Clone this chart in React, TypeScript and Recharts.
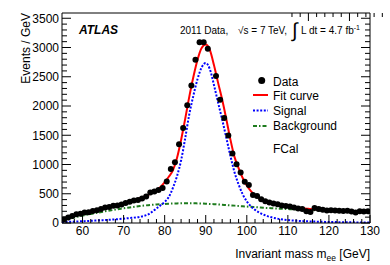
import {
  ComposedChart,
  Line,
  Scatter,
  XAxis,
  YAxis,
} from 'recharts'

// fit grid (GeV)
const MASS_GRID = [
  55, 56, 57, 58, 59, 60, 61, 62, 63, 64, 65, 66, 67, 68, 69, 70, 71, 72, 73, 74,
  75, 76, 77, 78, 79, 80, 81, 82, 83, 84, 85, 86, 87, 88, 89, 90, 91, 92, 93, 94,
  95, 96, 97, 98, 99, 100, 101, 102, 103, 104, 105, 106, 107, 108, 109, 110, 111, 112, 113, 114,
  115, 116, 117, 118, 119, 120, 121, 122, 123, 124, 125, 126, 127, 128, 129, 130,
]

const FIT = [
  68, 92, 113, 133, 151, 168, 185, 201, 218, 235, 252, 269, 286, 303, 320, 338, 356, 376, 398, 423,
  450, 483, 520, 563, 618, 698, 790, 900, 1110, 1420, 1780, 2160, 2500, 2790, 2990, 3050, 2960, 2700, 2400, 2110,
  1780, 1430, 1130, 940, 770, 640, 545, 475, 425, 390, 362, 340, 322, 307, 294, 283, 273, 264, 256, 249,
  243, 237, 232, 227, 223, 219, 215, 212, 209, 206, 203, 200, 198, 196, 194, 192,
]

const SIGNAL = [
  15, 18, 21, 24, 27, 30, 34, 37, 41, 45, 49, 53, 58, 63, 68, 74, 81, 88, 96, 106,
  122, 148, 195, 248, 302, 360, 445, 600, 800, 1070, 1450, 1860, 2180, 2460, 2660, 2735, 2630, 2360, 2060, 1770,
  1460, 1150, 870, 660, 490, 370, 285, 225, 180, 145, 118, 97, 81, 68, 58, 50, 44, 39, 35, 31,
  28, 25, 23, 21, 19, 17, 16, 15, 14, 13, 12, 11, 10, 9, 8, 8,
]

const BACKGROUND = [
  40, 58, 76, 93, 110, 126, 141, 155, 168, 181, 193, 205, 217, 229, 240, 251, 261, 271, 281, 290,
  298, 305, 311, 317, 322, 326, 330, 333, 335, 337, 338, 338, 337, 335, 333, 330, 326, 322, 317, 312,
  307, 302, 297, 291, 286, 281, 276, 271, 266, 261, 257, 253, 249, 245, 241, 238, 235, 232, 229, 226,
  223, 220, 217, 215, 213, 210, 208, 206, 204, 202, 200, 198, 196, 194, 192, 190,
]

// measured events per GeV, bin centres
const DATA_MASS = [
  55.5, 56.5, 57.5, 58.5, 59.5, 60.5, 61.5, 62.5, 63.5, 64.5, 65.5, 66.5, 67.5, 68.5, 69.5,
  70.5, 71.5, 72.5, 73.5, 74.5, 75.5, 76.5, 77.5, 78.5, 79.5, 80.5, 81.5, 82.5, 83.5, 84.5,
  85.5, 86.5, 87.5, 88.5, 89.5, 90.5, 92.5, 93.5, 94.5, 95.5, 96.5, 97.5, 98.5, 99.5,
  100.5, 101.5, 102.5, 103.5, 104.5, 105.5, 106.5, 107.5, 108.5, 109.5, 110.5, 111.5, 112.5, 113.5, 114.5,
  115.5, 116.5, 117.5, 118.5, 119.5, 120.5, 121.5, 122.5, 123.5, 124.5, 125.5, 126.5, 127.5, 128.5, 129.5,
]

const DATA_EVENTS = [
  65, 95, 120, 150, 160, 180, 185, 205, 220, 240, 265, 275, 295, 300, 315,
  340, 365, 385, 395, 420, 455, 520, 540, 565, 600, 710, 925, 1040, 1345, 1625,
  2015, 2350, 2790, 3090, 3090, 2980, 2515, 2105, 1795, 1495, 1190, 1005, 865, 705,
  650, 480, 460, 405, 370, 350, 335, 320, 300, 290, 280, 265, 250, 240, 200,
  190, 255, 240, 225, 215, 220, 215, 210, 205, 210, 195, 180, 200, 195, 200,
]

const X_TICKS = [
  56, 58, 60, 62, 64, 66, 68, 70, 72, 74, 76, 78, 80, 82, 84, 86, 88, 90, 92, 94,
  96, 98, 100, 102, 104, 106, 108, 110, 112, 114, 116, 118, 120, 122, 124, 126, 128, 130,
]
const Y_TICKS = [
  0, 100, 200, 300, 400, 500, 600, 700, 800, 900, 1000, 1100, 1200, 1300, 1400, 1500, 1600, 1700,
  1800, 1900, 2000, 2100, 2200, 2300, 2400, 2500, 2600, 2700, 2800, 2900, 3000, 3100, 3200, 3300,
  3400, 3500,
]

const FONT = "'Liberation Sans', Arial, Helvetica, sans-serif"
const RED = '#ff0000'
const BLUE = '#0000ff'
const GREEN = '#1e7b1e'
const SIG_DASH = '2 1.6'
const BG_DASH = '4 2 1.5 2'

const curveRows = MASS_GRID.map((m, i) => ({
  m,
  fit: FIT[i],
  signal: SIGNAL[i],
  background: BACKGROUND[i],
}))
const dataRows = DATA_MASS.map((m, i) => ({ m, events: DATA_EVENTS[i] }))

const tickText = { fontFamily: FONT, fontSize: 12, fill: '#000' }

function BottomTick(props: any) {
  const { x, y, payload } = props
  const major = payload.value % 10 === 0
  return (
    <g>
      <line x1={x} x2={x} y1={y} y2={y - (major ? 8 : 4)} stroke="#000" />
      {major && (
        <text x={x} y={y + 12} textAnchor="middle" {...tickText}>
          {payload.value}
        </text>
      )}
    </g>
  )
}

function TopTick(props: any) {
  const { x, y, payload } = props
  const major = payload.value % 10 === 0
  return <line x1={x} x2={x} y1={y} y2={y + (major ? 8 : 4)} stroke="#000" />
}

function LeftTick(props: any) {
  const { x, y, payload } = props
  const major = payload.value % 500 === 0
  return (
    <g>
      <line x1={x} x2={x + (major ? 9 : 5)} y1={y} y2={y} stroke="#000" />
      {major && (
        <text x={x - 3} y={y + 4.3} textAnchor="end" {...tickText}>
          {payload.value}
        </text>
      )}
    </g>
  )
}

function RightTick(props: any) {
  const { x, y, payload } = props
  const major = payload.value % 500 === 0
  return <line x1={x} x2={x - (major ? 9 : 5)} y1={y} y2={y} stroke="#000" />
}

function Dot(props: any) {
  return <circle cx={props.cx} cy={props.cy} r={3} fill="#000" />
}

function Labels() {
  const txt = { fontFamily: FONT, fill: '#000' }
  return (
    <svg
      width={390}
      height={265}
      style={{ position: 'absolute', left: 0, top: 0, pointerEvents: 'none' }}
    >
      <text x={29.5} y={13} transform="rotate(-90 29.5 13)" textAnchor="end" fontSize={12} {...txt}>
        Events / GeV
      </text>
      <text x={370} y={257.5} textAnchor="end" fontSize={12} {...txt}>
        Invariant mass m
        <tspan fontSize={8.5} dy={3}>ee</tspan>
        <tspan dy={-3}> [GeV]</tspan>
      </text>
      <text x={79} y={34.3} fontSize={12} fontWeight="bold" fontStyle="italic" {...txt}>
        ATLAS
      </text>
      <text x={180} y={33.5} fontSize={10} {...txt}>
        2011 Data,
      </text>
      <text x={238} y={33.5} fontSize={10} {...txt}>
        √s = 7 TeV,
      </text>
      <text x={292} y={37} fontSize={20} {...txt}>
        ∫
      </text>
      <text x={301} y={33.5} fontSize={10} {...txt}>
        L dt = 4.7 fb
        <tspan fontSize={7} dy={-4}>-1</tspan>
      </text>

      <circle cx={261.7} cy={80.5} r={3.5} fill="#000" />
      <line x1={253} x2={268} y1={95} y2={95} stroke={RED} strokeWidth={2} />
      <line x1={253} x2={268} y1={110.5} y2={110.5} stroke={BLUE} strokeWidth={2} strokeDasharray={SIG_DASH} />
      <line x1={253} x2={268} y1={126} y2={126} stroke={GREEN} strokeWidth={2} strokeDasharray={BG_DASH} />
      <text x={273} y={85.7} fontSize={12} {...txt}>Data</text>
      <text x={273} y={99.5} fontSize={12} {...txt}>Fit curve</text>
      <text x={273} y={114.5} fontSize={12} {...txt}>Signal</text>
      <text x={273} y={130} fontSize={12} {...txt}>Background</text>
      <text x={273} y={153.3} fontSize={12} {...txt}>FCal</text>
    </svg>
  )
}

export default function App() {
  return (
    <div style={{ position: 'absolute', left: 0, top: 0, width: 390, height: 265, background: '#fff' }}>
      <ComposedChart
        width={390}
        height={265}
        data={curveRows}
        margin={{ top: 0, right: 0, bottom: 0, left: 0 }}
      >
        <XAxis
          dataKey="m"
          type="number"
          domain={[55, 130]}
          ticks={X_TICKS}
          interval={0}
          height={42}
          tickSize={0}
          tickMargin={0}
          tickLine={false}
          axisLine={{ stroke: '#000' }}
          tick={<BottomTick />}
          allowDataOverflow
        />
        <XAxis
          xAxisId="top"
          orientation="top"
          type="number"
          domain={[55, 130]}
          ticks={X_TICKS}
          interval={0}
          height={13}
          tickSize={0}
          tickMargin={0}
          tickLine={false}
          axisLine={{ stroke: '#000' }}
          tick={<TopTick />}
          allowDataOverflow
        />
        <YAxis
          type="number"
          domain={[0, 3590]}
          ticks={Y_TICKS}
          interval={0}
          width={62}
          tickSize={0}
          tickMargin={0}
          tickLine={false}
          axisLine={{ stroke: '#000' }}
          tick={<LeftTick />}
          allowDataOverflow
        />
        <YAxis
          yAxisId="right"
          orientation="right"
          type="number"
          domain={[0, 3590]}
          ticks={Y_TICKS}
          interval={0}
          width={20}
          tickSize={0}
          tickMargin={0}
          tickLine={false}
          axisLine={{ stroke: '#000' }}
          tick={<RightTick />}
          allowDataOverflow
        />
        <Scatter data={dataRows} dataKey="events" shape={<Dot />} isAnimationActive={false} />
        <Line
          type="monotone"
          dataKey="background"
          stroke={GREEN}
          strokeWidth={2}
          strokeDasharray={BG_DASH}
          dot={false}
          activeDot={false}
          isAnimationActive={false}
        />
        <Line
          type="monotone"
          dataKey="signal"
          stroke={BLUE}
          strokeWidth={2}
          strokeDasharray={SIG_DASH}
          dot={false}
          activeDot={false}
          isAnimationActive={false}
        />
        <Line
          type="monotone"
          dataKey="fit"
          stroke={RED}
          strokeWidth={2}
          dot={false}
          activeDot={false}
          isAnimationActive={false}
        />
      </ComposedChart>
      <Labels />
    </div>
  )
}
